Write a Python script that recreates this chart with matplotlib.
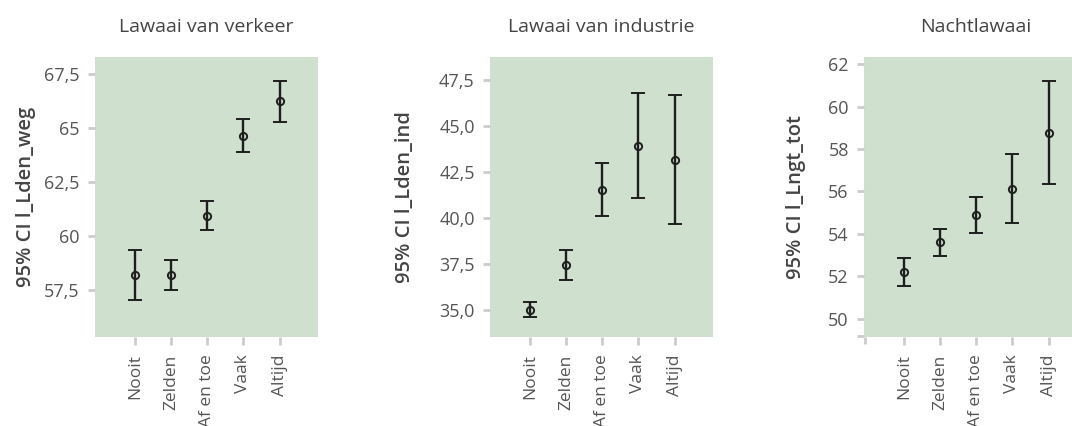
import matplotlib
matplotlib.use("Agg")
import matplotlib.pyplot as plt
from matplotlib.ticker import FuncFormatter

categories = ["Nooit", "Zelden", "Af en toe", "Vaak", "Altijd"]

# Means and 95% confidence bounds per noise source
verkeer_mean = [58.19, 58.19, 60.96, 64.63, 66.28]
verkeer_low = [57.04, 57.50, 60.28, 63.89, 65.32]
verkeer_high = [59.38, 58.90, 61.62, 65.43, 67.22]

industrie_mean = [35.00, 37.42, 41.53, 43.92, 43.17]
industrie_low = [34.60, 36.64, 40.08, 41.06, 39.69]
industrie_high = [35.40, 38.24, 43.02, 46.79, 46.68]

nacht_mean = [52.20, 53.62, 54.90, 56.13, 58.77]
nacht_low = [51.56, 52.96, 54.02, 54.49, 56.35]
nacht_high = [52.85, 54.25, 55.76, 57.75, 61.21]

titles = ["Lawaai van verkeer", "Lawaai van industrie", "Nachtlawaai"]
ylabels = ["95% CI l_Lden_weg", "95% CI l_Lden_ind", "95% CI l_Lngt_tot"]
yticks_list = [[57.5, 60, 62.5, 65, 67.5],
               [35.0, 37.5, 40.0, 42.5, 45.0, 47.5],
               [50, 52, 54, 56, 58, 60, 62]]
ylims = [(55.34, 68.31), (33.51, 48.77), (49.13, 62.35)]

plt.rcParams["font.family"] = ["Open Sans", "DejaVu Sans"]

BG = "#cfe0ce"
TICK_C = "#cccccc"
LABEL_C = "#555555"
TEXT_C = "#444444"
MARK_C = "#1e1e1e"

W, H = 1072, 426
fig = plt.figure(figsize=(W / 100, H / 100), dpi=100)

lefts = [95, 490, 864]
labelpads = [6, 17, 16]
axw, top, bottom = 223, 57, 337


def fmt_verkeer(v, pos):
    s = f"{v:.1f}"
    if s.endswith(".0"):
        s = s[:-2]
    return s.replace(".", ",")


def fmt_industrie(v, pos):
    return f"{v:.1f}".replace(".", ",")


def fmt_nacht(v, pos):
    return f"{v:.0f}"


formatters = [fmt_verkeer, fmt_industrie, fmt_nacht]
series = [(verkeer_mean, verkeer_low, verkeer_high),
          (industrie_mean, industrie_low, industrie_high),
          (nacht_mean, nacht_low, nacht_high)]

for i, (mean, low, high) in enumerate(series):
    ax = fig.add_axes([lefts[i] / W, 1 - bottom / H, axw / W, (bottom - top) / H])
    ax.set_facecolor(BG)
    for s in ax.spines.values():
        s.set_visible(False)
    x = list(range(len(categories)))
    yerr = [[m - l for m, l in zip(mean, low)], [h - m for m, h in zip(mean, high)]]
    ax.errorbar(x, mean, yerr=yerr, fmt="o", color=MARK_C, ecolor=MARK_C,
                elinewidth=1.7, capsize=5.2, capthick=2.3,
                markersize=5.2, markerfacecolor="none", markeredgewidth=1.4)
    ax.set_xlim(-1.1, 5.06)
    ax.set_ylim(*ylims[i])
    ax.set_xticks(x)
    ax.set_xticklabels(categories, rotation=90, fontsize=12.5, color=LABEL_C)
    ax.set_yticks(yticks_list[i])
    ax.yaxis.set_major_formatter(FuncFormatter(formatters[i]))
    ax.tick_params(axis="y", labelsize=13, labelcolor=LABEL_C, color=TICK_C,
                   length=5, width=2, pad=6)
    ax.tick_params(axis="x", color=TICK_C, length=5.5, width=2, pad=7)
    if i == 2:
        ax.set_xticks([-1.07], minor=True)
        ax.set_yticks([49.2], minor=True)
        ax.tick_params(which="minor", color=TICK_C, length=5, width=2)
    ax.set_title(titles[i], fontsize=14, color=TEXT_C, pad=18)
    ax.set_ylabel(ylabels[i], fontsize=14.5, color=TEXT_C, fontweight="semibold",
                  labelpad=labelpads[i])

fig.savefig("out.png", dpi=100)
